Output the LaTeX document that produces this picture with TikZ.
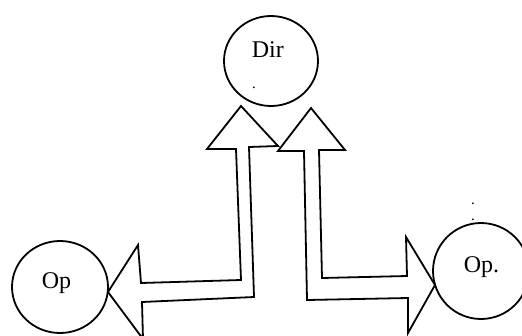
\documentclass[tikz,border=0pt]{standalone}
\usepackage{fontspec}
\setmainfont{Liberation Serif}
\usetikzlibrary{shapes.geometric}
\begin{document}
\begin{tikzpicture}[x=1pt,y=-1pt,line width=1.8pt,line join=miter,
  circ/.style={draw,ellipse,inner sep=0pt},
  lbl/.style={inner sep=0pt,anchor=base west,font=\fontsize{24}{26}\selectfont},
  dotl/.style={inner sep=0pt,anchor=base,font=\fontsize{15}{15}\selectfont},
  blockarrow/.style={draw,fill=white}]
\clip (0,0) rectangle (522,335);
\node[circ,minimum width=94pt,minimum height=90pt] (dir) at (271,61) {};
\node[circ,minimum width=96pt,minimum height=92pt] (op) at (60,287) {};
\node[circ,minimum width=96pt,minimum height=96pt] (op2) at (481,271) {};
\node[lbl] (dirt) at (251,57) {Dir};
\node[dotl] (dird) at (254,88) {.};
\node[lbl] (opt) at (41,288) {Op};
\node[lbl] (op2t) at (463,272) {Op.};
\node[dotl] (d1) at (473,204) {.};
\node[dotl] (d2) at (473,220) {.};
% left bent double arrow (Dir <-> Op)
\draw[blockarrow] (241,106) -- (278,146) -- (249,147) -- (254,297) -- (142,302)
  -- (143,339) -- (108,292) -- (138,245) -- (141,283) -- (241,280) -- (236,149)
  -- (207,149) -- cycle;
% right bent double arrow (Dir <-> Op.)
\draw[blockarrow] (311,108) -- (345,150) -- (319,150) -- (322,278) -- (407,276)
  -- (406,237) -- (435,285) -- (408,333) -- (408,298) -- (307,300) -- (304,151)
  -- (278,151) -- cycle;
\end{tikzpicture}
\end{document}
